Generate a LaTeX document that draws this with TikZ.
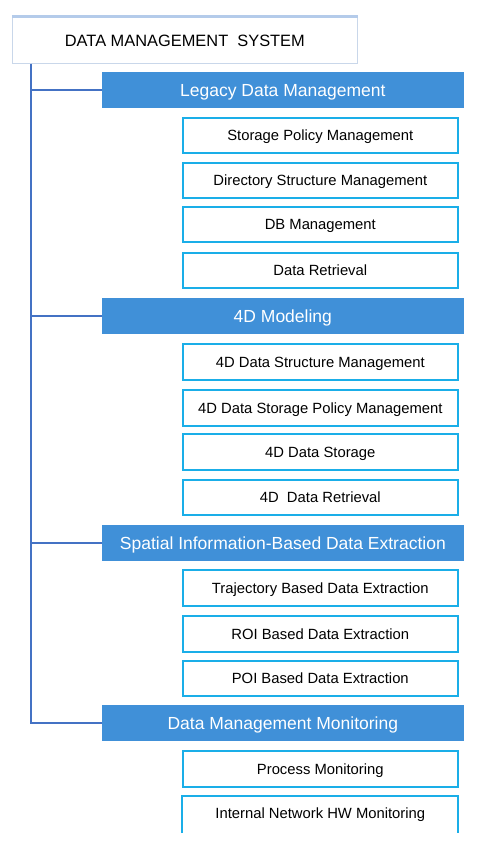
\documentclass[tikz,border=0pt]{standalone}
\usepackage{fontspec}
\setmainfont{Liberation Sans}
\usetikzlibrary{calc}
\definecolor{hdrblue}{HTML}{4090D8}
\definecolor{subcyan}{HTML}{1AAEE8}
\definecolor{trunkblue}{HTML}{4472C4}
\definecolor{topedge}{HTML}{C9D7EA}
\definecolor{topband}{HTML}{B4CBEA}
\begin{document}
\begin{tikzpicture}[x=1pt,y=-1pt,
  topbox/.style={text height=14pt, text depth=0pt, draw=topedge, line width=0.8pt, fill=white, minimum width=345pt, minimum height=47.5pt, inner sep=0pt, font=\fontsize{16.4}{18}\selectfont},
  hdrbox/.style={text height=12.5pt, text depth=0pt, fill=hdrblue, text=white, minimum width=362.3pt, minimum height=36pt, inner sep=0pt, font=\fontsize{17.5}{20}\selectfont},
  subtext/.style={text height=10.6pt, text depth=0pt, inner sep=0pt, font=\fontsize{14.8}{17}\selectfont},
  subbox/.style={subtext, draw=subcyan, line width=2pt, fill=white, minimum width=275.3pt, minimum height=35.6pt},
  subopen/.style={fill=white, minimum width=275.3pt, minimum height=36.7pt, inner sep=0pt},
  trunkline/.style={draw=trunkblue, line width=1.6pt}
]
\useasboundingbox (0,0) rectangle (479,850);
\coordinate (trunk) at (30.7,0);

\node[topbox] (top) at (184.85,39.4) {DATA MANAGEMENT \ SYSTEM};
\draw[topband, line width=3pt] ($(top.north west)+(0,1.5)$) -- ($(top.north east)+(0,1.5)$);

% headers
\node[hdrbox] (h1) at (282.85,90.2) {Legacy Data Management};
\node[hdrbox] (h2) at (282.85,316) {4D Modeling};
\node[hdrbox] (h3) at (282.85,543) {Spatial Information-Based Data Extraction};
\node[hdrbox] (h4) at (282.85,723.2) {Data Management Monitoring};

% group 1
\node[subbox] (a1) at (320.3,135.5) {Storage Policy Management};
\node[subbox] (a2) at (320.3,180.5) {Directory Structure Management};
\node[subbox] (a3) at (320.3,224.5) {DB Management};
\node[subbox] (a4) at (320.3,270.5) {Data Retrieval};

% group 2
\node[subbox] (b1) at (320.3,362) {4D Data Structure Management};
\node[subbox] (b2) at (320.3,408) {4D Data Storage Policy Management};
\node[subbox] (b3) at (320.3,451.7) {4D Data Storage};
\node[subbox] (b4) at (320.3,497.5) {4D\ \ Data Retrieval};

% group 3
\node[subbox] (c1) at (320.3,588.2) {Trajectory Based Data Extraction};
\node[subbox] (c2) at (320.3,634.2) {ROI Based Data Extraction};
\node[subbox] (c3) at (320.3,678.5) {POI Based Data Extraction};

% group 4
\node[subbox] (d1) at (320.3,768.9) {Process Monitoring};
\node[subopen] (d2) at (320.3,814.6) {};
\node[subtext] (d2t) at (320.3,813.2) {Internal Network HW Monitoring};
\draw[subcyan, line width=2pt] (d2.south west) -- (d2.north west) -- (d2.north east) -- (d2.south east);

% connectors
\draw[trunkline] (top.south -| trunk) |- (h4.west);
\draw[trunkline] (h1.west -| trunk) -- (h1.west);
\draw[trunkline] (h2.west -| trunk) -- (h2.west);
\draw[trunkline] (h3.west -| trunk) -- (h3.west);
\end{tikzpicture}
\end{document}
